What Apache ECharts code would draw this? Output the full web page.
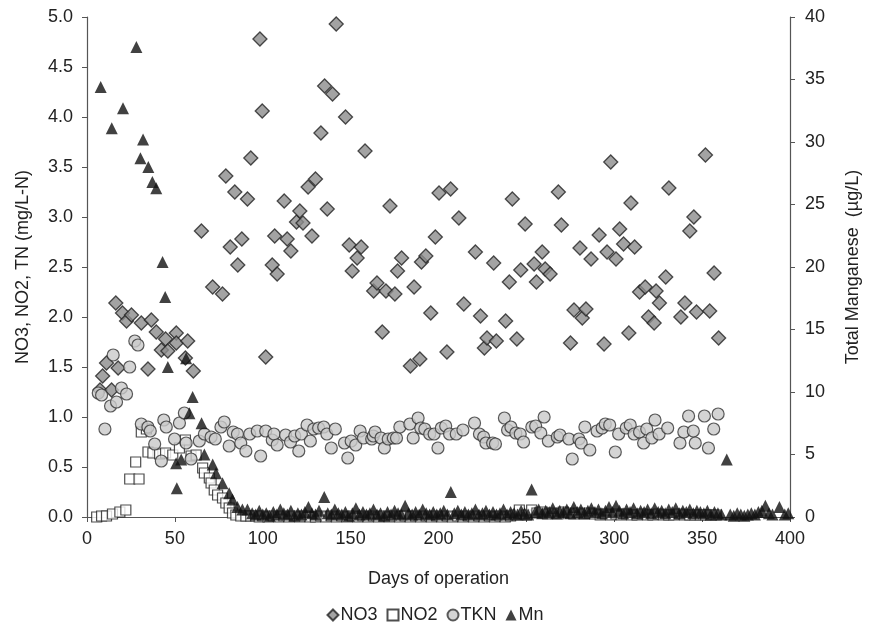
<!DOCTYPE html>
<html>
<head>
<meta charset="utf-8">
<script src="https://cdn.jsdelivr.net/npm/echarts@6/dist/echarts.min.js"></script>
<style>
html,body{margin:0;padding:0;background:#fff;}
#chart{width:870px;height:631px;}
</style>
</head>
<body>
<div id="chart"></div>
<script>
// ---- Data (day, value) ----
const seriesNames = ['NO3', 'NO2', 'TKN', 'Mn'];
const xAxisTitle = 'Days of operation';
const leftAxisTitle = 'NO3, NO2, TN (mg/L-N)';
const rightAxisTitle = 'Total Manganese  (\u00b5g/L)';

const no3 = [
[7.4,1.27],[8.9,1.41],[11.1,1.54],[14.0,1.27],[16.4,2.14],[17.7,1.49],[20.2,2.04],[22.5,1.96],[25.3,2.02],[30.9,1.94],
[34.7,1.48],[36.6,1.97],[39.4,1.85],[42.3,1.67],[44.7,1.78],[46.0,1.66],[50.8,1.84],[50.8,1.74],[56.0,1.59],[57.3,1.76],
[60.5,1.46],[65.1,2.86],[71.5,2.30],[77.1,2.23],[79.0,3.41],[81.5,2.70],[84.1,3.25],[85.8,2.52],[88.1,2.78],[91.3,3.18],
[93.2,3.59],[98.4,4.78],[99.7,4.06],[101.7,1.60],[105.4,2.52],[106.8,2.81],[108.2,2.43],[112.2,3.16],[113.9,2.78],[116.0,2.66],
[119.2,2.95],[121.1,3.06],[122.9,2.94],[125.8,3.30],[128.0,2.81],[130.0,3.38],[133.1,3.84],[135.2,4.31],[136.7,3.08],[139.7,4.23],
[141.8,4.93],[147.1,4.00],[149.2,2.72],[150.9,2.46],[153.7,2.59],[156.0,2.70],[158.2,3.66],[163.1,2.26],[165.0,2.34],[168.0,1.85],
[170.1,2.26],[172.4,3.11],[175.2,2.23],[176.7,2.46],[179.0,2.59],[184.0,1.51],[186.1,2.30],[189.4,1.58],[190.3,2.55],[192.8,2.61],
[195.6,2.04],[198.2,2.80],[200.3,3.24],[204.8,1.65],[206.9,3.28],[211.6,2.99],[214.4,2.13],[221.0,2.65],[223.9,2.01],[226.1,1.69],
[227.6,1.79],[231.4,2.54],[232.9,1.76],[238.2,1.96],[240.3,2.35],[242.0,3.18],[244.6,1.78],[246.8,2.47],[249.3,2.93],[254.4,2.53],
[255.7,2.35],[259.0,2.65],[260.7,2.48],[263.5,2.43],[268.2,3.25],[269.9,2.92],[275.1,1.74],[277.1,2.07],[280.5,2.69],[281.8,1.99],
[283.9,2.08],[286.8,2.58],[291.4,2.82],[294.2,1.73],[295.9,2.65],[298.0,3.55],[301.0,2.58],[303.1,2.88],[305.3,2.73],[308.3,1.84],
[309.5,3.14],[311.6,2.70],[314.4,2.25],[317.6,2.30],[319.5,2.00],[322.7,1.94],[323.8,2.26],[325.7,2.14],[329.3,2.40],[331.1,3.29],
[337.9,2.00],[340.2,2.14],[343.0,2.86],[345.3,3.00],[346.8,2.05],[351.9,3.62],[354.3,2.06],[356.8,2.44],[359.4,1.79]
];

const no2 = [
[5.5,0.00],[8.3,0.01],[11.1,0.01],[14.5,0.03],[18.7,0.05],[22.1,0.07],[24.3,0.38],[27.7,0.55],[29.6,0.38],[30.9,0.85],
[33.8,0.88],[34.7,0.65],[37.5,0.64],[41.3,0.63],[44.7,0.64],[48.8,0.62],[52.6,0.69],[56.0,0.77],[59.2,0.61],[62.1,0.62],
[65.8,0.49],[66.8,0.44],[69.6,0.39],[70.6,0.34],[72.4,0.27],[74.3,0.22],[77.1,0.19],[79.0,0.14],[80.9,0.09],[82.8,0.04],
[84.7,0.02],[87.5,0.01],[90.4,0.01],[93.2,0.01],[96,0.01],[98,0.00],[100,0.01],[103,0.00],[106,0.01],[109,0.00],
[112,0.01],[115,0.00],[118,0.01],[121,0.00],[124,0.01],[127,0.00],[130,0.00],[133,0.01],[136,0.00],[139,0.01],
[142,0.00],[145,0.01],[148,0.00],[151,0.01],[154,0.00],[157,0.01],[160,0.00],[163,0.01],[166,0.00],[169,0.01],
[172,0.00],[175,0.01],[178,0.00],[181,0.01],[184,0.00],[187,0.01],[190,0.00],[193,0.01],[196,0.00],[199,0.01],
[202,0.00],[205,0.01],[208,0.00],[211,0.01],[214,0.00],[217,0.01],[220,0.00],[223,0.01],[226,0.00],[229,0.01],
[232,0.00],[235,0.01],[238,0.00],[241,0.01],[244,0.02],[246,0.07],[250,0.02],[253,0.07],[256,0.04],[259,0.05],
[262,0.03],[265,0.04],[268,0.03],[271,0.05],[274,0.04],[277,0.03],[280,0.04],[283,0.03],[286,0.04],[289,0.03],
[292,0.02],[295,0.03],[298,0.02],[301,0.03],[304,0.02],[307,0.03],[310,0.02],[313,0.02],[316,0.03],[319,0.02],
[322,0.02],[325,0.03],[328,0.02],[331,0.02],[334,0.02],[337,0.03],[340,0.02],[343,0.02],[346,0.02],[349,0.02],
[352,0.02],[355,0.02],[358,0.02]
];

const tkn = [
[6.4,1.24],[8.3,1.22],[10.2,0.88],[13.4,1.11],[14.9,1.62],[16.8,1.15],[19.6,1.29],[22.5,1.23],[24.3,1.50],[27.2,1.76],
[29.0,1.72],[30.9,0.93],[34.7,0.90],[36.0,0.86],[38.5,0.73],[42.3,0.56],[43.7,0.97],[45.1,0.90],[49.8,0.78],[52.6,0.94],
[55.4,1.04],[56.4,0.74],[59.2,0.58],[63.9,0.76],[66.8,0.83],[70.6,0.80],[73.0,0.78],[76.2,0.90],[78.1,0.95],[80.9,0.71],
[83.2,0.85],[85.6,0.83],[87.5,0.74],[90.4,0.66],[92.6,0.83],[96.9,0.86],[98.8,0.61],[101.7,0.86],[105.4,0.77],[106.4,0.83],
[108.2,0.72],[113.0,0.82],[115.8,0.75],[118.2,0.81],[120.5,0.66],[122.0,0.83],[125.2,0.92],[127.1,0.76],[129.0,0.88],[131.8,0.89],
[134.7,0.90],[136.5,0.83],[139.0,0.69],[141.3,0.88],[146.5,0.74],[148.4,0.59],[150.3,0.76],[152.9,0.72],[155.4,0.86],[157.3,0.79],
[162.0,0.78],[162.9,0.81],[163.9,0.85],[167.3,0.79],[169.2,0.69],[171.4,0.78],[174.3,0.79],[176.1,0.79],[178.0,0.90],[183.7,0.93],
[185.6,0.79],[188.4,0.99],[189.9,0.89],[192.2,0.88],[195.0,0.83],[197.5,0.83],[199.7,0.69],[201.6,0.89],[204.1,0.91],[206.3,0.83],
[210.1,0.83],[213.9,0.87],[220.5,0.94],[223.3,0.83],[225.7,0.80],[227.0,0.74],[230.8,0.74],[232.4,0.73],[237.5,0.99],[239.3,0.87],
[241.2,0.90],[244.0,0.84],[246.5,0.83],[248.4,0.75],[253.1,0.90],[255.3,0.91],[258.2,0.84],[260.1,1.00],[262.5,0.76],[267.6,0.80],
[269.1,0.82],[274.2,0.78],[276.1,0.58],[279.9,0.78],[281.2,0.74],[283.3,0.90],[286.1,0.67],[290.2,0.86],[293.1,0.89],[294.9,0.93],
[297.4,0.92],[300.6,0.65],[302.5,0.83],[306.8,0.89],[309.1,0.92],[311.3,0.83],[314.4,0.85],[316.7,0.74],[318.5,0.88],[321.4,0.79],
[323.2,0.97],[325.5,0.83],[330.4,0.89],[337.4,0.74],[339.6,0.85],[342.3,1.01],[345.0,0.86],[346.1,0.74],[351.3,1.01],[353.6,0.69],
[356.6,0.88],[359.1,1.03]
];

const mn = [
[7.8,34.4],[14.1,31.1],[20.5,32.7],[28.1,37.6],[30.4,28.7],[31.9,30.2],[34.9,28.0],[37.2,26.8],[39.4,26.3],[43.0,20.4],
[44.5,17.6],[46.0,12.0],[50.7,4.3],[51.1,2.3],[53.6,4.6],[56.4,12.7],[58.3,8.3],[60.1,9.6],[65.2,7.5],[66.8,5.0],
[71.5,4.2],[73.4,3.5],[77.1,2.7],[80.9,1.9],[82.8,1.4],[85.6,0.8],[88.4,0.6],[91.3,0.6],
[94,0.3],[96,0.2],[98,0.5],[100,0.2],[102,0.3],[104,0.1],[106,0.4],[108,0.2],[110,0.6],[112,0.3],
[114,0.2],[116,0.5],[118,0.1],[120,0.3],[122,0.2],[124,0.4],[126,0.8],[128,0.3],[130,0.2],[132,0.5],
[135,1.6],[137,0.3],[139,0.2],[141,0.6],[143,0.3],[145,0.2],[147,0.4],[149,0.1],[151,0.3],[153,0.7],
[155,0.2],[157,0.4],[159,0.2],[161,0.3],[163,0.6],[165,0.2],[167,0.3],[169,0.1],[171,0.4],[173,0.2],
[175,0.5],[177,0.3],[179,0.2],[181,0.9],[183,0.3],[185,0.2],[187,0.4],[189,0.2],[191,0.6],[193,0.3],
[195,0.2],[197,0.4],[199,0.2],[201,0.3],[203,0.5],[205,0.2],[207,2.0],[209,0.3],[211,0.5],[213,0.2],
[215,0.4],[217,0.2],[219,0.3],[221,0.6],[223,0.2],[225,0.3],[227,0.5],[229,0.2],[231,0.4],[233,0.2],
[235,0.3],[237,0.6],[239,0.2],[241,0.4],[243,0.3],[245,0.2],[247,0.5],[249,0.3],[251,0.2],[253,2.2],
[255,0.4],[257,0.6],[259,0.3],[261,0.5],[263,0.4],[265,0.7],[267,0.3],[269,0.5],[271,0.4],[273,0.6],
[275,0.3],[277,0.8],[279,0.4],[281,0.6],[283,0.3],[285,0.5],[287,0.7],[289,0.4],[291,0.6],[293,0.3],
[295,0.5],[297,0.8],[299,0.4],[301,0.9],[303,0.5],[305,0.3],[307,0.6],[309,0.4],[311,0.7],[313,0.3],
[315,0.5],[317,0.4],[319,0.6],[321,0.3],[323,0.7],[325,0.4],[327,0.5],[329,0.3],[331,0.6],[333,0.4],
[335,0.7],[337,0.3],[339,0.5],[341,0.4],[343,0.6],[345,0.3],[347,0.5],[349,0.4],[351,0.3],[353,0.5],
[355,0.2],[357,0.4],[359,0.3],[361,0.2],[364,4.6],[366,0.2],[368,0.1],[370,0.3],[372,0.2],[374,0.1],
[376,0.2],[378,0.3],[380,0.2],[382,0.4],[384,0.5],[386,0.9],[388,0.3],[390,0.2],[394,0.8],[397,0.2],[399,0.3]
];

// ---- Chart ----
const chart = echarts.init(document.getElementById('chart'), null, {renderer: 'canvas'});
const font = 'Liberation Sans, Arial, sans-serif';
const axisCol = '#555';
const txtCol = '#222';
const fs = 18;

chart.setOption({
  animation: false,
  backgroundColor: '#fff',
  textStyle: {fontFamily: font},
  grid: {left: 87, right: 76, top: 17, bottom: 114, containLabel: false},
  legend: {
    data: seriesNames,
    bottom: 2,
    left: 'center',
    itemWidth: 11,
    itemHeight: 11,
    itemGap: 9,
    textStyle: {fontSize: fs, color: txtCol, fontFamily: font, padding: [0, 0, 0, -3]}
  },
  xAxis: {
    type: 'value', min: 0, max: 400, interval: 50,
    name: xAxisTitle, nameLocation: 'middle', nameGap: 53,
    nameTextStyle: {fontSize: fs, color: txtCol, fontFamily: font},
    axisLine: {show: true, lineStyle: {color: axisCol, width: 1.2}},
    axisTick: {show: true, length: 5, lineStyle: {color: axisCol}},
    axisLabel: {fontSize: fs, color: txtCol, margin: 13, fontFamily: font},
    splitLine: {show: false}
  },
  yAxis: [{
    type: 'value', min: 0, max: 5, interval: 0.5, position: 'left',
    name: leftAxisTitle, nameLocation: 'middle', nameGap: 55, nameRotate: 90,
    nameTextStyle: {fontSize: fs, color: txtCol, fontFamily: font},
    axisLine: {show: true, lineStyle: {color: axisCol, width: 1.2}},
    axisTick: {show: true, length: 5, lineStyle: {color: axisCol}},
    axisLabel: {fontSize: fs, color: txtCol, margin: 14, fontFamily: font,
      formatter: v => v.toFixed(1)},
    splitLine: {show: false}
  }, {
    type: 'value', min: 0, max: 40, interval: 5, position: 'right',
    name: rightAxisTitle, nameLocation: 'middle', nameGap: 54, nameRotate: 90,
    nameTextStyle: {fontSize: fs, color: txtCol, fontFamily: font},
    axisLine: {show: true, lineStyle: {color: axisCol, width: 1.2}},
    axisTick: {show: true, length: 5, lineStyle: {color: axisCol}},
    axisLabel: {fontSize: fs, color: txtCol, margin: 15, fontFamily: font},
    splitLine: {show: false}
  }],
  series: [
    {name: 'NO3', type: 'scatter', yAxisIndex: 0, data: no3, symbol: 'diamond', symbolSize: 14,
     itemStyle: {color: '#8c8c8c', borderColor: '#222', borderWidth: 1.3}},
    {name: 'NO2', type: 'scatter', yAxisIndex: 0, data: no2, symbol: 'rect', symbolSize: 10,
     itemStyle: {color: '#fff', borderColor: '#222', borderWidth: 1.2}},
    {name: 'TKN', type: 'scatter', yAxisIndex: 0, data: tkn, symbol: 'circle', symbolSize: 12,
     itemStyle: {color: '#c9c9c9', borderColor: '#333', borderWidth: 1.2}},
    {name: 'Mn', type: 'scatter', yAxisIndex: 1, data: mn, symbol: 'triangle', symbolSize: 12,
     itemStyle: {color: '#111'}}
  ]
});
</script>
</body>
</html>
